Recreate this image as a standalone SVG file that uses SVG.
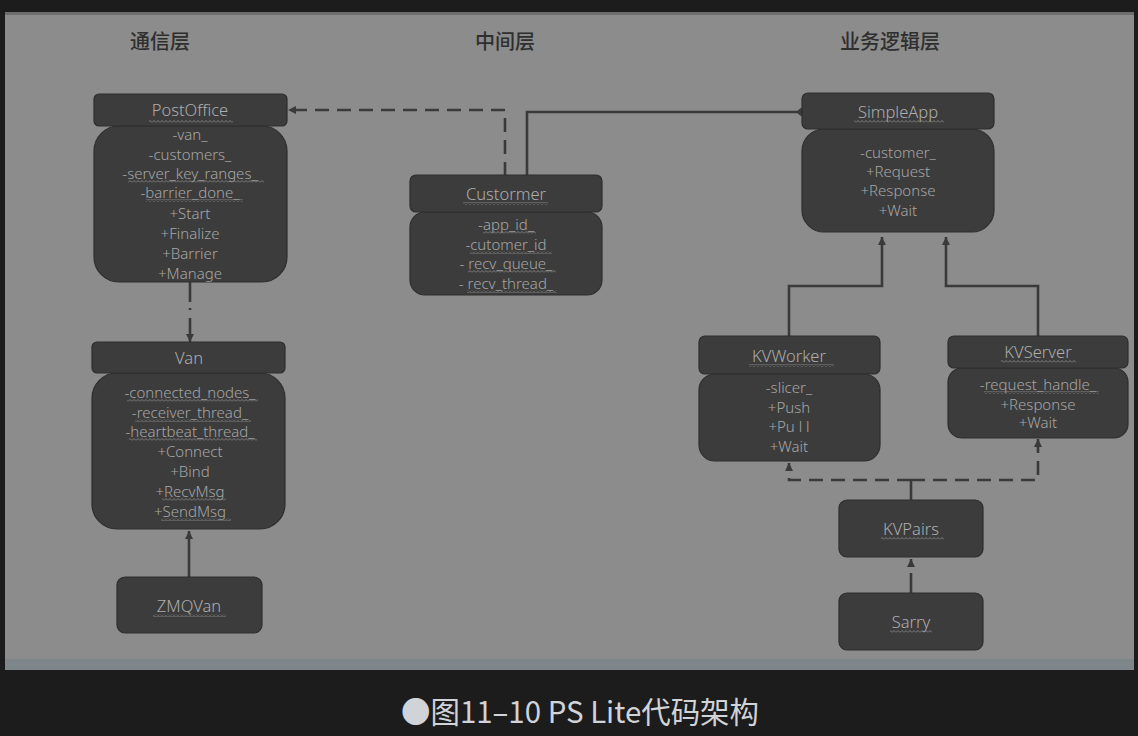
<svg xmlns="http://www.w3.org/2000/svg" width="1138" height="736" viewBox="0 0 1138 736">
<defs>
<style>
.box{fill:#3c3c3c;stroke:#2e2e2e;stroke-width:1.2}
.t{font-family:"Noto Sans","Open Sans",sans-serif;font-size:15px;font-weight:300;fill:#a6a6a6;text-anchor:middle}
.h{font-family:"Noto Sans","Open Sans",sans-serif;font-size:16.5px;font-weight:300;fill:#adadad;text-anchor:middle}
.layer{font-family:"Noto Sans CJK SC","Noto Sans",sans-serif;font-size:20px;font-weight:500;fill:#2f2f2f;text-anchor:middle}
.c{fill:none;stroke:#3a3a3a;stroke-width:2.6}
.d{stroke-dasharray:14 8}
.w{fill:url(#wavy)}
</style>
<pattern id="wavy" patternUnits="userSpaceOnUse" width="4" height="3">
<path d="M0,2.5 L2,0.5 L4,2.5" fill="none" stroke="#8e8e8e" stroke-width="0.8"/>
</pattern>
<marker id="arr" markerUnits="userSpaceOnUse" markerWidth="9" markerHeight="9" refX="8" refY="4.5" orient="auto">
<path d="M0,0.5 L8,4.5 L0,8.5 z" fill="#3a3a3a"/>
</marker>
<marker id="dia" markerUnits="userSpaceOnUse" markerWidth="10" markerHeight="10" refX="5" refY="5" orient="auto">
<path d="M0,5 L5,0.8 L10,5 L5,9.2 z" fill="#3c3c3c"/>
</marker>
</defs>
<rect x="0" y="0" width="1138" height="736" fill="#1c1c1c"/>
<rect x="5" y="12" width="1129" height="658" fill="#8c8c8c"/>
<rect x="5" y="12" width="1129" height="3" fill="#6e6e6e"/>
<rect x="5" y="659" width="1129" height="11" fill="#7e8689"/>

<text class="layer" x="160" y="49">通信层</text>
<text class="layer" x="505" y="49">中间层</text>
<text class="layer" x="890" y="49">业务逻辑层</text>

<g id="connectors">
<path class="c d" d="M505,176 V110 H288" marker-end="url(#arr)"/>
<path class="c" d="M527,176 V112 H801" marker-end="url(#dia)"/>
<path class="c" d="M190,282 V342" stroke-dasharray="20 6 2 8 100" marker-end="url(#arr)"/>
<path class="c" d="M189,577 V531" marker-end="url(#arr)"/>
<path class="c" d="M789,336 V286 H882 V237" marker-end="url(#arr)"/>
<path class="c" d="M1038,336 V286 H946 V237" marker-end="url(#arr)"/>
<path class="c" d="M911,500 V480"/>
<path class="c d" d="M911,480 H789 V463" marker-end="url(#arr)"/>
<path class="c d" d="M911,480 H1038 V439" marker-end="url(#arr)"/>
<path class="c" d="M911,593 V559" stroke-dasharray="20 7 100" marker-end="url(#arr)"/>
</g>

<g id="PostOffice">
<rect class="box" x="94" y="126" width="193" height="156" rx="25"/>
<rect class="box" x="94" y="94" width="193" height="32" rx="5"/>
<text class="h" x="190" y="116">PostOffice</text>
<rect class="w" x="149" y="120" width="84" height="3"/>
<text class="t" x="190" y="140">-van_</text>
<text class="t" x="190" y="160">-customers_</text>
<text class="t" x="190" y="179">-server_key_ranges_</text>
<rect class="w" x="128" y="180" width="136" height="3"/>
<text class="t" x="190" y="198">-barrier_done_</text>
<rect class="w" x="146" y="199" width="97" height="3"/>
<text class="t" x="190" y="219">+Start</text>
<text class="t" x="190" y="239">+Finalize</text>
<text class="t" x="190" y="259">+Barrier</text>
<text class="t" x="190" y="279">+Manage</text>
</g>

<g id="Van">
<rect class="box" x="92" y="373" width="193" height="156" rx="25"/>
<rect class="box" x="92" y="342" width="193" height="31" rx="5"/>
<text class="h" x="189" y="364">Van</text>
<text class="t" x="190" y="398">-connected_nodes_</text>
<rect class="w" x="127" y="399" width="131" height="3"/>
<text class="t" x="190" y="418">-receiver_thread_</text>
<rect class="w" x="135" y="419" width="116" height="3"/>
<text class="t" x="190" y="437">-heartbeat_thread_</text>
<rect class="w" x="129" y="438" width="128" height="3"/>
<text class="t" x="190" y="457">+Connect</text>
<text class="t" x="190" y="477">+Bind</text>
<text class="t" x="190" y="497">+RecvMsg</text>
<rect class="w" x="162" y="498" width="64" height="3"/>
<text class="t" x="190" y="517">+SendMsg</text>
<rect class="w" x="161" y="518" width="70" height="3"/>
</g>

<g id="ZMQVan">
<rect class="box" x="117" y="577" width="145" height="56" rx="8"/>
<text class="h" x="189" y="612">ZMQVan</text>
<rect class="w" x="153" y="614" width="73" height="3"/>
</g>

<g id="Custormer">
<rect class="box" x="410" y="212" width="192" height="83" rx="15"/>
<rect class="box" x="410" y="175" width="192" height="37" rx="6"/>
<text class="h" x="506" y="200">Custormer</text>
<rect class="w" x="463" y="202" width="85" height="3"/>
<text class="t" x="506" y="230">-app_id_</text>
<rect class="w" x="483" y="231" width="53" height="3"/>
<text class="t" x="506" y="250">-cutomer_id</text>
<rect class="w" x="470" y="251" width="82" height="3"/>
<text class="t" x="506" y="269">- recv_queue_</text>
<rect class="w" x="468" y="270" width="88" height="3"/>
<text class="t" x="506" y="289">- recv_thread_</text>
<rect class="w" x="467" y="290" width="90" height="3"/>
</g>

<g id="SimpleApp">
<rect class="box" x="802" y="129" width="192" height="103" rx="22"/>
<rect class="box" x="802" y="93" width="192" height="36" rx="6"/>
<text class="h" x="898" y="118">SimpleApp</text>
<rect class="w" x="854" y="120" width="90" height="3"/>
<text class="t" x="898" y="158">-customer_</text>
<text class="t" x="898" y="177">+Request</text>
<text class="t" x="898" y="196">+Response</text>
<text class="t" x="898" y="216">+Wait</text>
</g>

<g id="KVWorker">
<rect class="box" x="699" y="374" width="181" height="87" rx="16"/>
<rect class="box" x="699" y="336" width="181" height="38" rx="6"/>
<text class="h" x="789" y="362">KVWorker</text>
<rect class="w" x="749" y="364" width="85" height="3"/>
<text class="t" x="789" y="393">-slicer_</text>
<text class="t" x="789" y="413">+Push</text>
<text class="t" x="789" y="432">+Pu l l</text>
<text class="t" x="789" y="452">+Wait</text>
</g>

<g id="KVServer">
<rect class="box" x="948" y="368" width="180" height="70" rx="14"/>
<rect class="box" x="948" y="336" width="180" height="32" rx="6"/>
<text class="h" x="1038" y="358">KVServer</text>
<rect class="w" x="1001" y="360" width="75" height="3"/>
<text class="t" x="1038" y="390">-request_handle_</text>
<rect class="w" x="984" y="391" width="115" height="3"/>
<text class="t" x="1038" y="410">+Response</text>
<text class="t" x="1038" y="428">+Wait</text>
</g>

<g id="KVPairs">
<rect class="box" x="839" y="500" width="144" height="57" rx="8"/>
<text class="h" x="911" y="535">KVPairs</text>
<rect class="w" x="881" y="537" width="63" height="3"/>
</g>

<g id="Sarry">
<rect class="box" x="839" y="593" width="144" height="57" rx="8"/>
<text class="h" x="911" y="628">Sarry</text>
<rect class="w" x="890" y="630" width="42" height="3"/>
</g>

<text x="580" y="723" font-family="Noto Sans CJK SC, Noto Sans, sans-serif" font-size="30" fill="#d0d3d8" text-anchor="middle" textLength="358" lengthAdjust="spacingAndGlyphs">●图11–10 PS Lite代码架构</text>
</svg>
